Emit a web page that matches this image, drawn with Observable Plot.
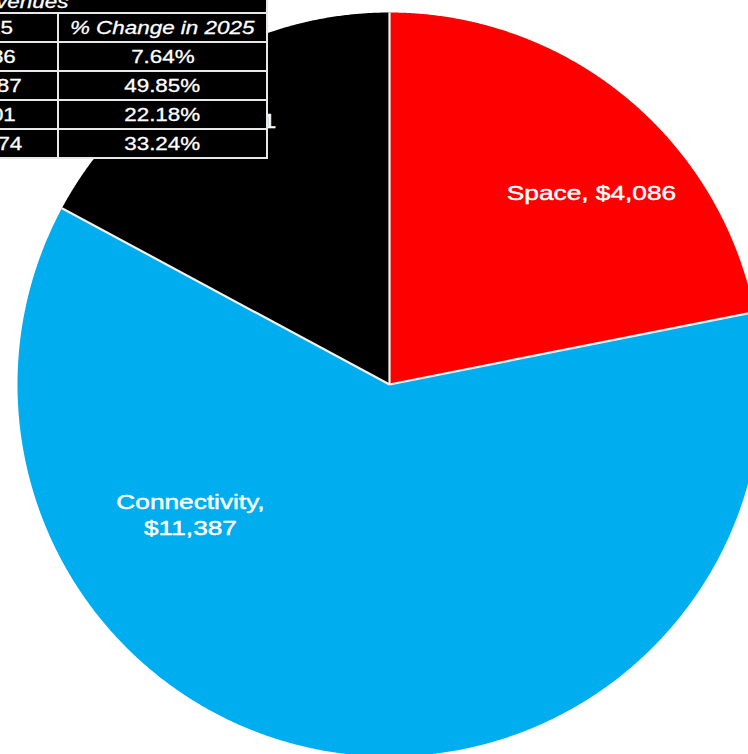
<!DOCTYPE html>
<html>
<head>
<meta charset="utf-8">
<script src="https://cdn.jsdelivr.net/npm/d3@7"></script>
<script src="https://cdn.jsdelivr.net/npm/@observablehq/plot@0.6"></script>
<style>
  html, body { margin: 0; padding: 0; background: #fff; overflow: hidden; }
  #wrap { position: relative; width: 748px; height: 754px; overflow: hidden; }
  #chart svg { display: block; }
  #tbl {
    position: absolute; border-collapse: collapse; table-layout: fixed;
    background: #000; color: #fff;
    font-family: "Liberation Sans", Arial, Helvetica, sans-serif; font-size: 19px;
    -webkit-text-stroke: 0.3px #fff;
  }
  #tbl td, #tbl th { border: 2px solid #e8e8e8; padding: 0; text-align: center; font-weight: normal; white-space: nowrap; overflow: visible; }
  #tbl tr { height: 29px; }
  #tbl tr.title { height: 26px; }
  #tbl span { display: inline-block; transform: scaleX(1.18); }
  #tbl .it { font-style: italic; }
</style>
</head>
<body>
<div id="wrap">
  <div id="chart"></div>
</div>
<script>
// ---- data ----
const segments = ["Space", "Connectivity", "AI"];
const revenue2025 = [4086, 11387, 3201];
const revenue2024 = [3796, 7599, 2620];
const pctChange2025 = ["7.64%", "49.85%", "22.18%"];
const totalLabel = "Total";
const total2024 = 14015;
const total2025 = 18674;
const totalPct = "33.24%";
const tableTitle = "SpaceX Revenues";
const headers = ["Segment", "2024", "2025", "% Change in 2025"];
const colors = ["#ff0000", "#00adef", "#000000"];

// label anchor positions (unit-circle coordinates, layout only)
const labelX = [0.543, -0.535, -0.465];
const labelY = [0.519, -0.347, 0.712];
const labelText = ["Space, $4,086", "Connectivity,\n$11,387", "AI, $3,201"];

// ---- pie geometry from values ----
const fmt = d3.format(",");
const arcs = d3.pie().sort(null).value(d => d)(revenue2025);
const polys = [];
arcs.forEach((a, i) => {
  polys.push({seg: segments[i], color: colors[i], x: 0, y: 0});
  const n = Math.max(2, Math.ceil((a.endAngle - a.startAngle) / (Math.PI / 720)));
  for (let k = 0; k <= n; k++) {
    const t = a.startAngle + (a.endAngle - a.startAngle) * k / n;
    polys.push({seg: segments[i], color: colors[i], x: Math.sin(t), y: Math.cos(t)});
  }
});
const edges = arcs.map(a => ({x1: 0, y1: 0, x2: Math.sin(a.startAngle), y2: Math.cos(a.startAngle)}));
const labels = segments.map((s, i) => ({text: labelText[i], x: labelX[i], y: labelY[i]}));

const cx = 389, cy = 384, R = 372;
const svg = Plot.plot({
  width: 748, height: 754,
  margin: 0,
  x: {domain: [-1, 1], range: [cx - R, cx + R], axis: null},
  y: {domain: [-1, 1], range: [cy + R, cy - R], axis: null},
  color: {type: "identity"},
  style: {background: "#fff", overflow: "hidden"},
  marks: [
    Plot.line(polys, {x: "x", y: "y", z: "seg", fill: "color", stroke: null, curve: "linear"}),
    Plot.link(edges, {x1: "x1", y1: "y1", x2: "x2", y2: "y2", stroke: "#f2f2f2", strokeWidth: 2.2}),
    Plot.text(labels, {x: "x", y: "y", text: "text", fill: "#fff", stroke: "#fff", strokeWidth: 0.45,
      fontSize: 21, lineHeight: 1.24,
      fontFamily: "Liberation Sans, Arial, Helvetica, sans-serif", textAnchor: "middle"})
  ]
});
svg.querySelectorAll("text").forEach(t => {
  const tr = t.getAttribute("transform");
  if (tr) t.setAttribute("transform", tr + " scale(1.25,1)");
  else {
    const x = +t.getAttribute("x") || 0, y = +t.getAttribute("y") || 0;
    t.setAttribute("transform", `translate(${x},${y}) scale(1.25,1) translate(${-x},${-y})`);
  }
});
document.getElementById("chart").appendChild(svg);

// ---- table ----
const colW = [140, 100, 140, 209];
const tblW = colW.reduce((a, b) => a + b, 0);
const tbl = document.createElement("table");
tbl.id = "tbl";
tbl.style.width = tblW + "px";
tbl.style.left = (266 - tblW) + "px";
tbl.style.top = "-14px";
const cg = document.createElement("colgroup");
colW.forEach(w => { const c = document.createElement("col"); c.style.width = w + "px"; cg.appendChild(c); });
tbl.appendChild(cg);
const trT = document.createElement("tr"); trT.className = "title";
const th0 = document.createElement("th"); th0.colSpan = 4;
th0.style.textAlign = "right"; th0.style.paddingRight = "198px";
th0.style.verticalAlign = "bottom"; th0.style.paddingBottom = "0px";
th0.style.lineHeight = "20px";
th0.innerHTML = `<span class="it" style="transform-origin:right center">${tableTitle}</span>`;
trT.appendChild(th0); tbl.appendChild(trT);
const trH = document.createElement("tr");
headers.forEach((h, i) => {
  const th = document.createElement("th");
  th.innerHTML = `<span class="${i === 3 ? "it" : ""}">${h}</span>`;
  trH.appendChild(th);
});
tbl.appendChild(trH);
const rows = segments.map((s, i) => [s, fmt(revenue2024[i]), fmt(revenue2025[i]), pctChange2025[i]]);
rows.push([totalLabel, fmt(total2024), fmt(total2025), totalPct]);
rows.forEach(r => {
  const tr = document.createElement("tr");
  r.forEach(v => { const td = document.createElement("td"); td.innerHTML = `<span>${v}</span>`; tr.appendChild(td); });
  tbl.appendChild(tr);
});
document.getElementById("wrap").appendChild(tbl);
</script>
</body>
</html>
